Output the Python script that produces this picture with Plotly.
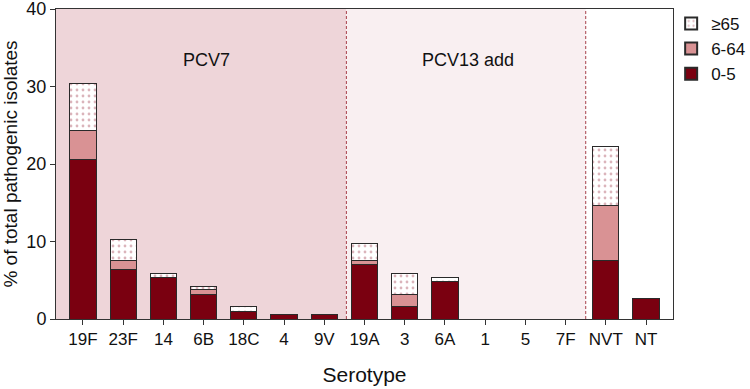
import plotly.graph_objects as go

serotypes = ["19F", "23F", "14", "6B", "18C", "4", "9V", "19A", "3", "6A", "1", "5", "7F", "NVT", "NT"]
age_0_5 = [20.6, 6.45, 5.4, 3.2, 1.03, 0.52, 0.52, 7.0, 1.55, 4.8, 0, 0, 0, 7.5, 2.67]
age_6_64 = [3.7, 1.05, 0, 0.55, 0, 0, 0, 0.5, 1.63, 0, 0, 0, 0, 7.1, 0]
age_65 = [6.1, 2.8, 0.5, 0.5, 0.52, 0, 0, 2.2, 2.72, 0.6, 0, 0, 0, 7.6, 0]
group_labels = ["PCV7", "PCV13 add"]

x = list(range(len(serotypes)))
FONT = "Liberation Sans, Arial, sans-serif"
BAR_LINE = dict(color="#2a2a2a", width=1)

fig = go.Figure()
fig.add_trace(go.Bar(x=x, y=age_0_5, name="0-5", width=0.65,
                     marker=dict(color="#7a0010", line=BAR_LINE)))
fig.add_trace(go.Bar(x=x, y=age_6_64, name="6-64", width=0.65,
                     marker=dict(color="#d99294", line=BAR_LINE)))
fig.add_trace(go.Bar(x=x, y=age_65, name="≥65", width=0.65,
                     marker=dict(color="white", line=BAR_LINE,
                                 pattern=dict(shape=".", fgcolor="#b86a78", bgcolor="white",
                                              size=6, solidity=0.17))))

xmin, xmax = -0.67, 14.67
d1, d2 = 6.55, 12.5
fig.add_shape(type="rect", xref="x", yref="y", x0=xmin, x1=d1, y0=0, y1=40,
              fillcolor="#eed5d9", line_width=0, layer="below")
fig.add_shape(type="rect", xref="x", yref="y", x0=d1, x1=d2, y0=0, y1=40,
              fillcolor="#f9eff1", line_width=0, layer="below")
for d in (d1, d2):
    fig.add_shape(type="line", xref="x", yref="y", x0=d, x1=d, y0=0, y1=40,
                  line=dict(color="#a8404c", width=1, dash="3px,2px"), layer="below")

fig.add_annotation(x=3.08, y=33.4, text=group_labels[0], showarrow=False,
                   font=dict(family=FONT, size=18, color="#111"))
fig.add_annotation(x=9.58, y=33.4, text=group_labels[1], showarrow=False,
                   font=dict(family=FONT, size=18, color="#111"))

fig.update_layout(
    barmode="stack",
    width=750, height=389,
    margin=dict(l=56, r=77, t=9, b=70, autoexpand=False),
    paper_bgcolor="white", plot_bgcolor="white",
    font=dict(family=FONT, color="#111"),
    legend=dict(x=0.997, y=1.01, xanchor="left", yanchor="top", traceorder="reversed",
                font=dict(family=FONT, size=17), bgcolor="rgba(0,0,0,0)",
                itemsizing="constant", tracegroupgap=2),
    showlegend=True,
)
fig.update_xaxes(range=[xmin, xmax], tickmode="array", tickvals=x, ticktext=serotypes,
                 automargin=False, ticklabeloverflow="allow",
                 showline=True, linecolor="#333", linewidth=1, mirror=True,
                 ticks="outside", ticklen=5, tickcolor="#333", showgrid=False, zeroline=False,
                 tickfont=dict(family=FONT, size=17, color="#111"),
                 title=dict(text="Serotype", font=dict(family=FONT, size=21, color="#111"), standoff=18))
fig.update_yaxes(range=[0, 40], tickvals=[0, 10, 20, 30, 40],
                 automargin=False, ticklabeloverflow="allow",
                 showline=True, linecolor="#333", linewidth=1, mirror=True,
                 ticks="outside", ticklen=5, tickcolor="#333", showgrid=False, zeroline=False,
                 tickfont=dict(family=FONT, size=18, color="#111"),
                 title=dict(text="% of total pathogenic isolates", font=dict(family=FONT, size=19, color="#111"), standoff=8))

fig.write_html("out.html", config={"displayModeBar": False},
               post_script="document.body.style.margin='0';")
